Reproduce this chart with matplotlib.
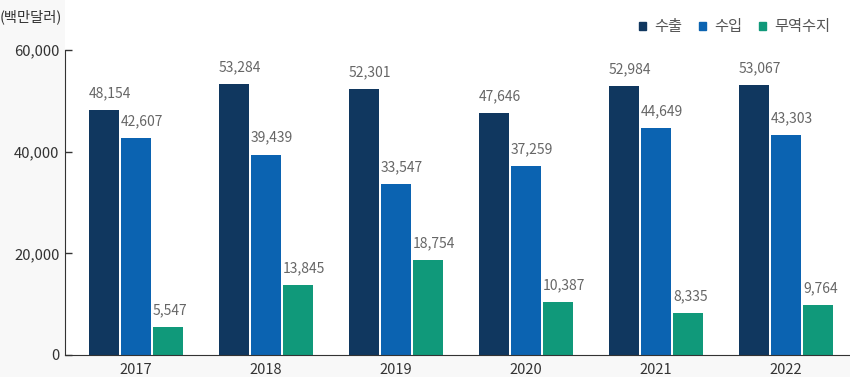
import matplotlib
matplotlib.use("Agg")
import matplotlib.pyplot as plt
from matplotlib.patches import Patch
from matplotlib.ticker import FuncFormatter
import numpy as np

plt.rcParams["font.family"] = ["Noto Sans CJK KR", "DejaVu Sans"]

years = ["2017", "2018", "2019", "2020", "2021", "2022"]
export = [48154, 53284, 52301, 47646, 52984, 53067]
imports = [42607, 39439, 33547, 37259, 44649, 43303]
balance = [5547, 13845, 18754, 10387, 8335, 9764]
series_names = ["수출", "수입", "무역수지"]
colors = ["#10375f", "#0b63b1", "#10997a"]

fig = plt.figure(figsize=(8.5, 3.77), dpi=100, facecolor="#f8f8f8")
ax = fig.add_axes([65 / 850, 22 / 377, 785 / 850, 355 / 377])
ax.set_facecolor("white")

x = np.arange(len(years))
w = 30 / 130
step = 32 / 130
for i, (vals, c) in enumerate(zip([export, imports, balance], colors)):
    pos = x + (i - 1) * step
    ax.bar(pos, vals, width=w, color=c, linewidth=0)
    for p, v in zip(pos, vals):
        ax.annotate(f"{v:,}", (p - w / 2, v), xytext=(0, 7), textcoords="offset points",
                    ha="left", va="bottom", fontsize=10, fontweight="light", color="#666666")

ax.set_xlim(-71 / 130, 714 / 130)
ax.set_ylim(0, 60000 * 355 / 305)
ax.set_yticks([0, 20000, 40000, 60000])
ax.yaxis.set_major_formatter(FuncFormatter(lambda v, _: f"{int(v):,}"))
ax.set_xticks(x)
ax.set_xticklabels(years)
ax.tick_params(axis="y", direction="in", length=5, width=1, color="#333333",
               labelsize=10.7, labelcolor="#333333", pad=4)
ax.tick_params(axis="x", length=0, labelsize=10.5, labelcolor="#333333", pad=6)

for s in ["top", "right"]:
    ax.spines[s].set_visible(False)
ax.spines["left"].set_bounds(0, 60000)
ax.spines["left"].set_color("#333333")
ax.spines["bottom"].set_color("#333333")

fig.text(0.0, 1 - 17 / 377, "(백만달러)", fontsize=10.3, color="#333333", va="center", ha="left")

handles = [Patch(color=c) for c in colors]
ax.legend(handles, series_names, loc="center right",
          bbox_to_anchor=((830 - 65) / 785, 1 - 27 / 355),
          ncol=3, frameon=False, fontsize=11, handlelength=0.5, handleheight=0.5,
          handletextpad=0.5, columnspacing=1.1, labelcolor="#555555",
          borderaxespad=0, borderpad=0)

fig.savefig("out.png", dpi=100, facecolor=fig.get_facecolor())
